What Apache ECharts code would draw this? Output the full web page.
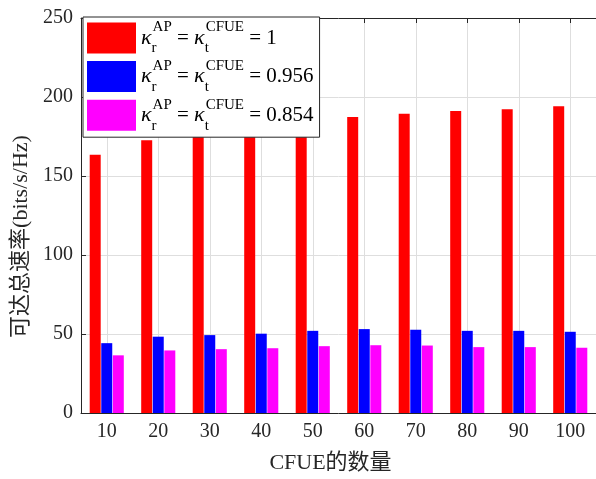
<!DOCTYPE html>
<html>
<head>
<meta charset="utf-8">
<script src="https://cdn.jsdelivr.net/npm/echarts@6/dist/echarts.min.js"></script>
<style>
  html, body { margin: 0; padding: 0; background: #fff; }
  #main { width: 596px; height: 479px; }
</style>
</head>
<body>
<div id="main"></div>
<script>
// CFUE count on the x axis
var cfueCounts = ['10', '20', '30', '40', '50', '60', '70', '80', '90', '100'];
// kappa values shown in the legend
var kappaLabels = ['1', '0.956', '0.854'];
// achievable sum rate (bits/s/Hz)
var rateK1 = [163.4, 172.7, 178, 182, 185, 187.3, 189.4, 191.2, 192.3, 194.1];
var rateK0956 = [44.2, 48.3, 49.3, 50.2, 52.0, 53.1, 52.7, 52.0, 52.0, 51.4];
var rateK0854 = [36.5, 39.6, 40.4, 41.0, 42.3, 42.9, 42.7, 41.7, 41.7, 41.3];
var yTicks = [0, 50, 100, 150, 200, 250];

var seriesNames = ['k1', 'k2', 'k3'];
var seriesColors = ['#ff0000', '#0000ff', '#ff00ff'];
var seriesData = [rateK1, rateK0956, rateK0854];

var axisColor = '#262626';
var gridColor = '#dedede';
var serif = "'Liberation Serif', 'Noto Sans CJK SC'";

var chart = echarts.init(document.getElementById('main'));

chart.setOption({
    animation: false,
    backgroundColor: '#fff',
    grid: {
        left: 81,
        top: 18,
        width: 520,
        height: 401.5
    },
    legend: {
        data: seriesNames,
        orient: 'vertical',
        left: 83,
        top: 17,
        icon: 'rect',
        itemWidth: 49,
        itemHeight: 31,
        itemGap: 2.6,
        padding: [3, 6, 4, 4],
        backgroundColor: '#fff',
        borderColor: axisColor,
        borderWidth: 1,
        borderRadius: 0,
        itemStyle: { borderWidth: 0 },
        formatter: function (name) {
            var v = kappaLabels[seriesNames.indexOf(name)];
            return '{k|κ}{sub|r}{sup|AP}{n| = }{k|κ}{sub|t}{sup|CFUE}{n| = ' + v + '}';
        },
        textStyle: {
            fontFamily: serif,
            color: '#000',
            fontSize: 21,
            lineHeight: 36,
            rich: {
                k: { fontFamily: serif, fontStyle: 'italic', fontSize: 22, color: '#000' },
                n: { fontFamily: serif, fontSize: 21, color: '#000' },
                sup: { fontFamily: serif, fontSize: 15, color: '#000', verticalAlign: 'top', lineHeight: 20 },
                sub: { fontFamily: serif, fontSize: 15, color: '#000', verticalAlign: 'bottom', lineHeight: 16, width: 1 }
            }
        }
    },
    xAxis: [{
        type: 'category',
        data: cfueCounts,
        position: 'bottom',
        name: 'CFUE的数量',
        nameLocation: 'middle',
        nameGap: 39,
        nameTextStyle: {
            fontFamily: serif,
            fontSize: 22,
            color: axisColor,
            padding: [0, 16, 0, 0]
        },
        axisLine: { show: true, lineStyle: { color: axisColor, width: 1 } },
        axisTick: { show: true, inside: true, alignWithLabel: true, length: 5, lineStyle: { color: axisColor } },
        axisLabel: { fontFamily: serif, fontSize: 20, color: axisColor, margin: 9 },
        splitLine: { show: true, alignWithLabel: true, lineStyle: { color: gridColor, width: 1 } }
    }, {
        type: 'category',
        data: cfueCounts,
        position: 'top',
        axisLine: { show: true, lineStyle: { color: axisColor, width: 1 } },
        axisTick: { show: true, inside: true, alignWithLabel: true, length: 5, lineStyle: { color: axisColor } },
        axisLabel: { show: false },
        splitLine: { show: false }
    }],
    yAxis: [{
        type: 'value',
        min: yTicks[0],
        max: yTicks[yTicks.length - 1],
        interval: yTicks[1] - yTicks[0],
        name: '可达总速率(bits/s/Hz)',
        nameLocation: 'middle',
        nameGap: 45,
        nameTextStyle: {
            fontFamily: serif,
            fontSize: 22,
            color: axisColor,
            padding: [0, 42, 0, 0]
        },
        axisLine: { show: true, lineStyle: { color: axisColor, width: 1 } },
        axisTick: { show: true, inside: true, length: 5, lineStyle: { color: axisColor } },
        axisLabel: { fontFamily: serif, fontSize: 20, color: axisColor, margin: 8 },
        splitLine: { show: true, lineStyle: { color: gridColor, width: 1 } }
    }],
    series: seriesNames.map(function (nm, i) {
        return {
            name: nm,
            type: 'bar',
            xAxisIndex: 0,
            yAxisIndex: 0,
            barWidth: 11,
            barGap: '5%',
            itemStyle: { color: seriesColors[i] },
            data: seriesData[i]
        };
    })
});
</script>
</body>
</html>
